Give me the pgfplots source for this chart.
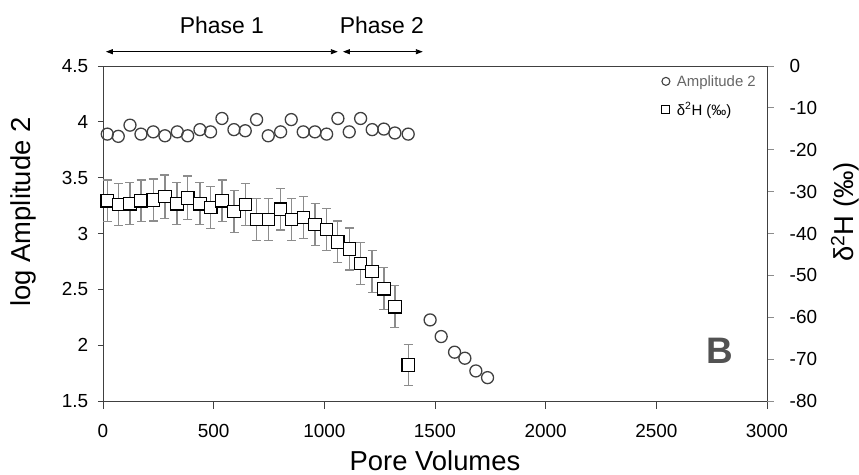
\documentclass[border=0pt]{standalone}
\usepackage{fontspec}
\setmainfont{Liberation Sans}
\usepackage{pgfplots}
\usepackage{pgfplotstable}
\pgfplotsset{compat=1.18}
\usetikzlibrary{arrows.meta}

\definecolor{mk}{HTML}{404040}
\definecolor{eb}{HTML}{8C8C8C}
\definecolor{axc}{HTML}{404040}

% log Amplitude 2 vs pore volumes
\pgfplotstableread{
pv amp
19.4 3.89
69 3.87
122 3.97
171.6 3.89
227 3.91
280 3.875
335.6 3.91
382.6 3.875
438 3.93
486 3.91
537.5 4.03
591.7 3.93
642.7 3.92
694 4.02
746.6 3.875
802.6 3.91
850.5 4.02
904.7 3.91
957.6 3.91
1010.4 3.89
1061.4 4.03
1112.5 3.91
1164 4.03
1216.3 3.93
1269 3.935
1318.9 3.90
1379 3.89
1478 2.226
1528 2.077
1588.5 1.937
1635 1.883
1684.7 1.769
1737.5 1.709
}\amptable

% delta 2H (permil) with error
\pgfplotstableread{
pv d2h err
19 -32.2 5
69 -33.1 5
122 -32.9 5
172 -32.2 5
227 -32.0 5
280 -31.2 5.2
334 -32.9 5
383 -31.5 5.2
438 -32.9 5
487 -33.8 5
538 -32.2 5
592 -34.8 5
643 -33.1 5
694 -36.7 5
747 -36.7 5
803 -34.2 5
851 -36.7 5
905 -36.2 5
958 -37.8 5
1010 -39.0 5
1061 -42.0 5
1113 -43.7 5
1164 -47.2 5
1216 -49.1 5
1269 -53.2 5
1319 -57.5 5
1379 -71.4 4.9
}\dtable

\begin{document}
\begin{tikzpicture}
\pgfplotsset{
  base/.style={
    width=664bp, height=335bp, scale only axis,
    xmin=0, xmax=3000,
    tick align=outside,
    axis line style={axc, line width=0.8bp},
    /pgf/number format/assume math mode=true,
    /pgf/number format/1000 sep={},
    scaled ticks=false,
    tick label style={font=\fontsize{19}{21}\selectfont},
    label style={font=\fontsize{27.5}{30}\selectfont, inner sep=0pt},
    clip=false,
  }
}
\begin{axis}[base,
  ymin=1.5, ymax=4.5,
  ytick={1.5,2,2.5,3,3.5,4,4.5},
  xtick={0,500,1000,1500,2000,2500,3000},
  xtick pos=lower, ytick pos=lower,
  ytick style={axc, line width=0.8bp, /pgfplots/major tick length=5bp},
  xtick style={axc, line width=0.8bp, /pgfplots/major tick length=8bp},
  yticklabel style={xshift=-7bp},
  xticklabel style={yshift=-16bp},
  xlabel={Pore Volumes},
  ylabel={log Amplitude 2},
  xlabel style={at={(axis description cs:0.5,0)}, anchor=north, yshift=-49bp},
  ylabel style={at={(axis description cs:-0.1205,0.564)}, anchor=center},
]
\addplot[only marks, mark=o, mark size=6bp, draw=mk, mark options={line width=1.3bp}] table[x=pv, y=amp] {\amptable};

% phase annotations
\draw[{Triangle[length=7bp,width=5bp]}-{Triangle[length=7bp,width=5bp]}, line width=0.9bp]
  (axis cs:13,4.628) -- (axis cs:1061,4.628);
\draw[{Triangle[length=7bp,width=5bp]}-{Triangle[length=7bp,width=5bp]}, line width=0.9bp]
  (axis cs:1084,4.628) -- (axis cs:1445,4.628);
\node[font=\fontsize{23}{25}\selectfont] at (axis cs:537,4.867) {Phase 1};
\node[font=\fontsize{23}{25}\selectfont] at (axis cs:1260,4.867) {Phase 2};
\node[font=\fontsize{37}{37}\selectfont\bfseries, text=black!68] at (axis cs:2787,1.95) {B};

\path ([shift={(-103bp,-74bp)}]rel axis cs:0,0) rectangle ([shift={(92bp,66bp)}]rel axis cs:1,1);
\end{axis}

\begin{axis}[base,
  ymin=-80, ymax=0,
  ytick={-80,-70,-60,-50,-40,-30,-20,-10,0},
  yticklabels={-80,-70,-60,-50,-40,-30,-20,-10,0},
  axis y line*=right,
  axis x line=none,
  ytick style={black!45, line width=0.8bp, /pgfplots/major tick length=7bp},
  yticklabel style={xshift=15bp},
  ylabel={δ\textsuperscript{2}H (‰)},
  ylabel style={at={(axis description cs:1.1175,0.564)}, anchor=center},
  legend style={draw=none, fill=none, at={(axis description cs:0.988,0.982)}, anchor=north east,
    font=\fontsize{15}{17}\selectfont, row sep=11bp, inner sep=1bp},
  legend cell align=left,
]
\addlegendimage{only marks, mark=o, mark size=4bp, draw=mk, mark options={line width=1.1bp}}
\addlegendentry{\hspace{5bp}\textcolor{black!60}{Amplitude 2}}
\addplot[only marks, mark=square*, mark size=6.2bp, forget plot,
  mark options={draw=black, fill=white, line width=1.1bp},
  error bars/.cd, y dir=both, y explicit,
  error bar style={eb, line width=1.3bp},
  error mark options={rotate=90, eb, mark size=4.5bp, line width=1.3bp}]
  table[x=pv, y=d2h, y error=err] {\dtable};
\addlegendimage{only marks, mark=square, mark size=4bp, draw=black, mark options={line width=1bp}}
\addlegendentry{\hspace{5bp}δ\textsuperscript{2}H (‰)}
\end{axis}
\end{tikzpicture}
\end{document}
